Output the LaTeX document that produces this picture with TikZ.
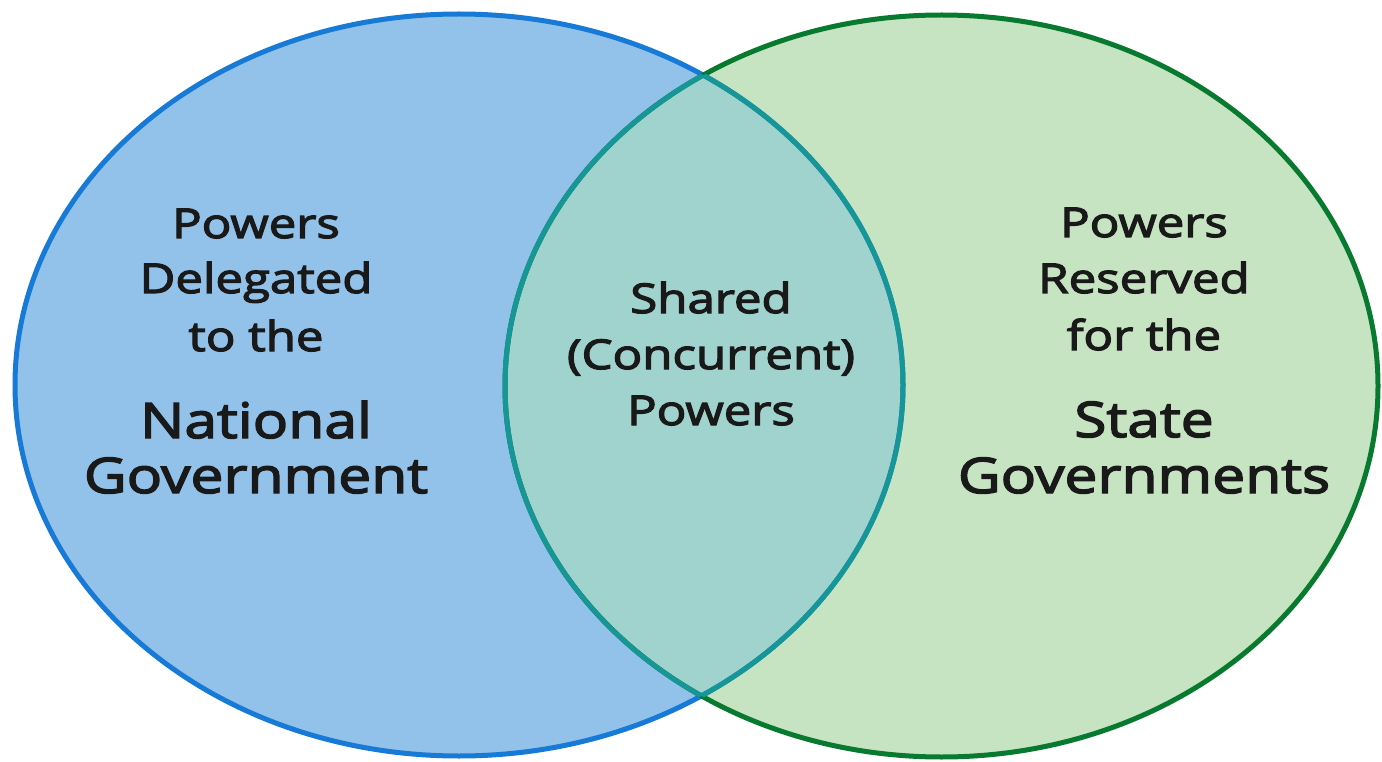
\documentclass[tikz,border=0pt]{standalone}
\usepackage{fontspec}
\setmainfont[FakeStretch=1.2,FakeBold=3]{Open Sans}
\definecolor{lfill}{RGB}{146,194,233}
\definecolor{rfill}{RGB}{198,227,194}
\definecolor{mfill}{RGB}{160,210,206}
\definecolor{lline}{RGB}{22,122,214}
\definecolor{rline}{RGB}{8,122,48}
\definecolor{mline}{RGB}{22,150,150}
\tikzset{
  small/.style={font=\fontsize{41}{48}\selectfont, anchor=base, inner sep=0pt, text=black!90},
  big/.style={font=\fontsize{49}{56}\selectfont, anchor=base, inner sep=0pt, text=black!90},
}
\begin{document}
\begin{tikzpicture}[x=1pt,y=-1pt]
\useasboundingbox (0,0) rectangle (1382,762);
\fill[white] (0,0) rectangle (1382,762);
% fills
\fill[lfill] (459,385) ellipse [x radius=444, y radius=371];
\fill[rfill] (941.5,386) ellipse [x radius=436.5, y radius=371];
\begin{scope}
\clip (459,385) ellipse [x radius=444, y radius=371];
\fill[mfill] (941.5,386) ellipse [x radius=436.5, y radius=371];
\end{scope}
% outlines
\draw[lline, line width=5pt] (459,385) ellipse [x radius=444, y radius=371];
\draw[rline, line width=5pt] (941.5,386) ellipse [x radius=436.5, y radius=371];
\begin{scope}
\clip (941.5,386) ellipse [x radius=436.5, y radius=371];
\draw[mline, line width=5pt] (459,385) ellipse [x radius=444, y radius=371];
\end{scope}
\begin{scope}
\clip (459,385) ellipse [x radius=444, y radius=371];
\draw[mline, line width=5pt] (941.5,386) ellipse [x radius=436.5, y radius=371];
\end{scope}
% left texts
\node[small] (l1) at (256,238) {Powers};
\node[small] (l2) at (256,293) {Delegated};
\node[small] (l3) at (256,351) {to the};
\node[big] (l4) at (256,438) {National};
\node[big] (l5) at (256,493) {Government};
% middle texts
\node[small] (m1) at (711,313) {Shared};
\node[small] (m2) at (711,369) {(Concurrent)};
\node[small] (m3) at (711,425) {Powers};
% right texts
\node[small] (r1) at (1144,237) {Powers};
\node[small] (r2) at (1144,293) {Reserved};
\node[small] (r3) at (1144,350) {for the};
\node[big] (r4) at (1144,437) {State};
\node[big] (r5) at (1144,493) {Governments};
\end{tikzpicture}
\end{document}
